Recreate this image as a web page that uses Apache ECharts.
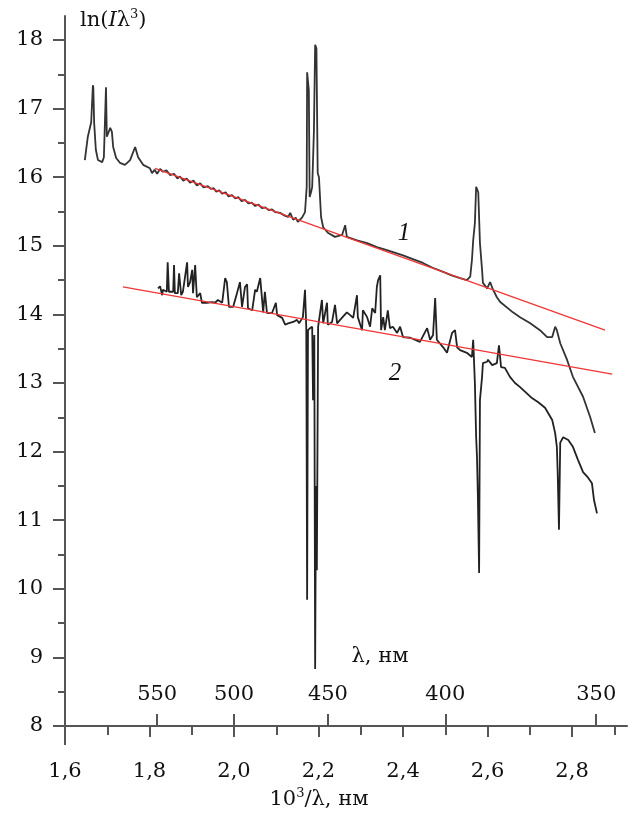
<!DOCTYPE html>
<html>
<head>
    <meta charset="utf-8">
    <title>ECharts</title>
    <script src="https://cdn.jsdelivr.net/npm/echarts@6/dist/echarts.min.js"></script>
    <style>
        html, body { margin: 0; padding: 0; background: #fff; }
    </style>
</head>
<body>
    <div id="main" style="width: 630px;height:818px;"></div>
    <script type="text/javascript">
        // tick values
        var yTicks = [8, 9, 10, 11, 12, 13, 14, 15, 16, 17, 18];
        var xTicks = [1.6, 1.8, 2.0, 2.2, 2.4, 2.6, 2.8];
        var lambdaTicks = [550, 500, 450, 400, 350];   // nm, top scale

        // spectrum 1 (upper), [10^3/lambda, ln(I*lambda^3)]
        var spectrum1 = [
            [1.647,16.25],[1.650,16.40],[1.654,16.59],[1.662,16.80],[1.666,17.34],[1.667,17.31],[1.669,16.79],
            [1.673,16.40],[1.678,16.25],[1.688,16.22],[1.692,16.29],[1.697,17.31],[1.699,16.59],[1.707,16.72],
            [1.711,16.66],[1.714,16.44],[1.721,16.28],[1.730,16.21],[1.742,16.18],[1.754,16.25],[1.766,16.44],
            [1.773,16.29],[1.785,16.18],[1.801,16.13],[1.806,16.06],[1.812,16.11],[1.818,16.05],[1.825,16.12],
            [1.832,16.08],[1.840,16.10],[1.849,16.03],[1.858,16.05],[1.866,15.98],[1.872,16.01],[1.880,15.95],
            [1.888,15.98],[1.896,15.92],[1.904,15.95],[1.912,15.88],[1.920,15.91],[1.928,15.85],[1.938,15.87],
            [1.945,15.83],[1.952,15.84],[1.958,15.79],[1.965,15.81],[1.972,15.76],[1.980,15.78],[1.987,15.72],
            [1.995,15.74],[2.003,15.69],[2.010,15.71],[2.018,15.65],[2.026,15.67],[2.034,15.62],[2.042,15.63],
            [2.050,15.58],[2.058,15.60],[2.066,15.55],[2.074,15.56],[2.082,15.52],[2.090,15.53],[2.098,15.49],
            [2.109,15.48],[2.120,15.44],[2.128,15.42],[2.133,15.48],[2.140,15.38],[2.146,15.41],[2.151,15.35],
            [2.156,15.38],[2.161,15.41],[2.168,15.49],[2.172,15.86],[2.173,17.53],[2.175,17.53],[2.177,17.27],
            [2.179,15.71],[2.183,15.80],[2.185,15.86],[2.187,16.25],[2.189,16.66],[2.192,17.93],[2.195,17.88],
            [2.196,17.88],[2.198,16.06],[2.201,16.00],[2.206,15.42],[2.211,15.27],[2.222,15.19],[2.239,15.13],
            [2.256,15.16],[2.263,15.30],[2.267,15.13],[2.291,15.08],[2.315,15.04],[2.338,14.98],[2.360,14.94],
            [2.380,14.90],[2.400,14.86],[2.417,14.82],[2.447,14.75],[2.470,14.68],[2.495,14.62],[2.515,14.57],
            [2.535,14.53],[2.551,14.50],[2.559,14.55],[2.563,14.79],[2.566,15.08],[2.570,15.33],[2.573,15.86],
            [2.576,15.86],[2.578,15.78],[2.582,15.04],[2.587,14.65],[2.589,14.46],[2.599,14.38],[2.606,14.47],
            [2.613,14.36],[2.622,14.25],[2.630,14.18],[2.660,14.03],[2.677,13.96],[2.701,13.87],[2.705,13.89],
            [2.724,13.77],[2.741,13.67],[2.753,13.67],[2.760,13.82],[2.764,13.77],[2.772,13.58],[2.788,13.34],
            [2.802,13.09],[2.826,12.80],[2.843,12.50],[2.854,12.27]
        ];

        // spectrum 2 (lower)
        var spectrum2 = [
            [1.820,14.38],[1.825,14.41],[1.830,14.28],[1.832,14.36],[1.841,14.33],[1.843,14.76],[1.846,14.33],
            [1.856,14.33],[1.858,14.72],[1.860,14.31],[1.867,14.31],[1.870,14.60],[1.875,14.28],[1.879,14.33],
            [1.889,14.76],[1.891,14.40],[1.896,14.47],[1.901,14.65],[1.903,14.31],[1.908,14.72],[1.912,14.25],
            [1.920,14.31],[1.924,14.17],[1.936,14.17],[1.948,14.18],[1.955,14.17],[1.962,14.21],[1.972,14.17],
            [1.979,14.53],[1.983,14.47],[1.988,14.11],[1.998,14.11],[2.007,14.31],[2.014,14.47],[2.019,14.11],
            [2.026,14.40],[2.031,14.44],[2.033,14.09],[2.043,14.06],[2.050,14.36],[2.054,14.33],[2.062,14.53],
            [2.069,14.03],[2.073,14.33],[2.078,14.02],[2.090,14.02],[2.099,14.17],[2.102,13.99],[2.114,13.95],
            [2.121,13.85],[2.128,13.87],[2.140,13.89],[2.149,13.92],[2.154,13.87],[2.163,13.96],[2.168,14.36],
            [2.171,13.80],[2.173,9.84],[2.175,13.77],[2.180,13.80],[2.185,13.82],[2.187,12.75],[2.190,13.70],
            [2.192,8.83],[2.194,11.50],[2.196,10.27],[2.199,13.82],[2.208,14.21],[2.211,13.87],[2.220,14.17],
            [2.222,13.85],[2.232,13.89],[2.239,14.14],[2.244,13.87],[2.251,13.92],[2.267,14.03],[2.275,13.99],
            [2.282,13.95],[2.291,14.28],[2.293,13.96],[2.303,13.77],[2.305,14.06],[2.315,13.96],[2.322,13.82],
            [2.327,14.09],[2.334,14.02],[2.338,14.40],[2.341,14.50],[2.346,14.57],[2.348,13.77],[2.353,13.96],
            [2.357,13.77],[2.364,14.06],[2.369,13.80],[2.376,13.82],[2.386,13.73],[2.393,13.82],[2.400,13.67],
            [2.417,13.66],[2.440,13.60],[2.457,13.80],[2.464,13.63],[2.471,13.70],[2.476,14.24],[2.480,13.63],
            [2.495,13.52],[2.504,13.44],[2.516,13.73],[2.523,13.77],[2.528,13.52],[2.535,13.48],[2.551,13.44],
            [2.563,13.38],[2.566,13.63],[2.570,13.00],[2.573,12.21],[2.575,11.92],[2.577,11.37],[2.580,10.23],
            [2.582,12.75],[2.587,13.09],[2.589,13.29],[2.599,13.31],[2.601,13.34],[2.611,13.26],[2.622,13.29],
            [2.627,13.55],[2.632,13.23],[2.641,13.22],[2.653,13.09],[2.665,13.00],[2.677,12.94],[2.693,12.85],
            [2.705,12.78],[2.720,12.72],[2.736,12.64],[2.753,12.46],[2.760,12.27],[2.764,12.07],[2.766,11.69],
            [2.769,10.86],[2.772,12.13],[2.779,12.21],[2.791,12.17],[2.802,12.07],[2.814,11.88],[2.826,11.70],
            [2.838,11.62],[2.847,11.54],[2.852,11.29],[2.859,11.10]
        ];

        // red linear fits
        var fit1 = [[1.813,16.13],[2.878,13.77]];
        var fit2 = [[1.737,14.40],[2.895,13.13]];

        var serif = 'DejaVu Serif';
        var axisColor = '#555';
        var txt = '#111';

        var myChart = echarts.init(document.getElementById('main'));

        var option = {
            animation: false,
            backgroundColor: '#fff',
            grid: { left: 65, right: 3, top: 16, bottom: 92 },
            xAxis: [
                {
                    type: 'value',
                    min: 1.6,
                    max: 2.93,
                    interval: 0.2,
                    splitLine: { show: false },
                    axisLine: { lineStyle: { color: axisColor, width: 2 } },
                    axisTick: { customValues: xTicks, length: 11, lineStyle: { color: axisColor, width: 2 } },
                    minorTick: { show: true, splitNumber: 2, length: 9, lineStyle: { color: axisColor, width: 2 } },
                    axisLabel: {
                        customValues: xTicks,
                        margin: 35,
                        fontSize: 21,
                        fontFamily: serif,
                        color: txt,
                        formatter: function (v) { return v.toFixed(1).replace('.', ','); }
                    }
                },
                {
                    // wavelength scale on the same line, ticks and labels pointing up
                    type: 'value',
                    position: 'bottom',
                    min: 1.6,
                    max: 2.93,
                    splitLine: { show: false },
                    axisLine: { show: false },
                    axisTick: {
                        inside: true,
                        length: 12,
                        customValues: lambdaTicks.map(function (l) { return 1000 / l; }),
                        lineStyle: { color: axisColor, width: 2 }
                    },
                    axisLabel: {
                        inside: true,
                        margin: 21,
                        fontSize: 21,
                        fontFamily: serif,
                        color: txt,
                        customValues: lambdaTicks.map(function (l) { return 1000 / l; }),
                        formatter: function (v) { return String(Math.round(1000 / v)); }
                    }
                }
            ],
            yAxis: {
                type: 'value',
                min: 8,
                max: 18.35,
                interval: 1,
                splitLine: { show: false },
                axisLine: { lineStyle: { color: axisColor, width: 2 } },
                axisTick: { customValues: yTicks, length: 12, lineStyle: { color: axisColor, width: 2 } },
                minorTick: { show: true, splitNumber: 2, length: 7, lineStyle: { color: axisColor, width: 2 } },
                axisLabel: {
                    customValues: yTicks,
                    margin: 22,
                    fontSize: 21,
                    fontFamily: serif,
                    color: txt
                }
            },
            series: [
                {
                    name: '1',
                    type: 'line',
                    data: spectrum1,
                    showSymbol: false,
                    lineStyle: { color: '#333', width: 1.8 },
                    z: 3
                },
                {
                    name: '2',
                    type: 'line',
                    data: spectrum2,
                    showSymbol: false,
                    lineStyle: { color: '#222', width: 1.8 },
                    z: 3
                },
                {
                    name: 'fit1',
                    type: 'line',
                    data: fit1,
                    showSymbol: false,
                    lineStyle: { color: '#f03535', width: 1.3 },
                    z: 4
                },
                {
                    name: 'fit2',
                    type: 'line',
                    data: fit2,
                    showSymbol: false,
                    lineStyle: { color: '#f03535', width: 1.3 },
                    z: 4
                }
            ],
            graphic: [
                {
                    // y axis continues a little below the x axis
                    type: 'line',
                    shape: { x1: 65, y1: 726, x2: 65, y2: 745 },
                    style: { stroke: axisColor, lineWidth: 2 }
                },
                {
                    type: 'text',
                    left: 80,
                    top: 8,
                    style: {
                        text: '{n|ln(}{i|I}{n|λ}{s|3}{n|)}',
                        rich: {
                            n: { fontSize: 21, fontFamily: serif, fill: txt },
                            i: { fontSize: 21, fontFamily: serif, fontStyle: 'italic', fill: txt },
                            s: { fontSize: 13, fontFamily: serif, fill: txt, padding: [0, 0, 12, 0] }
                        }
                    }
                },
                {
                    type: 'text',
                    x: 319,
                    y: 800,
                    style: {
                        text: '{n|10}{s|3}{n|/λ, нм}',
                        align: 'center',
                        verticalAlign: 'middle',
                        rich: {
                            n: { fontSize: 21, fontFamily: serif, fill: txt },
                            s: { fontSize: 13, fontFamily: serif, fill: txt, padding: [0, 0, 12, 0] }
                        }
                    }
                },
                {
                    type: 'text',
                    x: 380,
                    y: 657,
                    style: {
                        text: 'λ, нм',
                        align: 'center',
                        verticalAlign: 'middle',
                        fontSize: 21,
                        fontFamily: serif,
                        fill: txt
                    }
                },
                {
                    type: 'text',
                    x: 404,
                    y: 233,
                    style: {
                        text: '1',
                        align: 'center',
                        verticalAlign: 'middle',
                        fontSize: 25,
                        fontStyle: 'italic',
                        fontFamily: 'Liberation Serif',
                        fill: txt
                    }
                },
                {
                    type: 'text',
                    x: 395,
                    y: 373,
                    style: {
                        text: '2',
                        align: 'center',
                        verticalAlign: 'middle',
                        fontSize: 25,
                        fontStyle: 'italic',
                        fontFamily: 'Liberation Serif',
                        fill: txt
                    }
                }
            ]
        };

        myChart.setOption(option);
    </script>
</body>
</html>
